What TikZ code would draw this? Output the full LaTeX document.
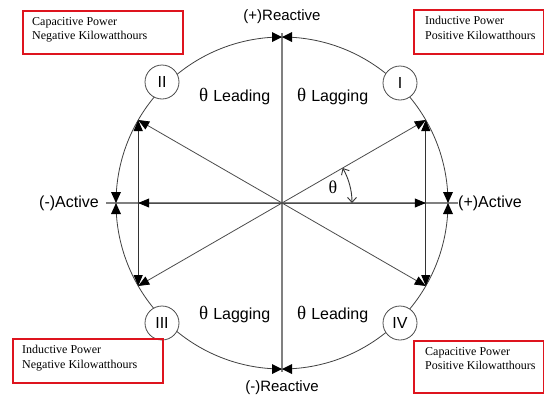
\documentclass[tikz,border=0pt]{standalone}
\usepackage{fontspec}
\setmainfont{Liberation Sans}
\newfontfamily\boxfont{Liberation Serif}
\usetikzlibrary{arrows.meta}
\definecolor{boxred}{RGB}{222,20,30}
\newcommand{\thq}{{\boxfont\fontsize{19}{19}\selectfont θ}\hspace{5pt}}
\begin{document}
\begin{tikzpicture}[x=1pt,y=-1pt,
  outer/.style={draw=black!75, line width=0.8pt},
  axis/.style={draw=black!50, line width=1.3pt},
  ray/.style={draw=black!70, line width=0.8pt},
  vline/.style={draw=black!80, line width=1pt},
  head/.style={-{Triangle[length=11pt,width=9pt,fill=black,color=black]}},
  bothhead/.style={{Triangle[length=11pt,width=9pt,fill=black,color=black]}-{Triangle[length=11pt,width=9pt,fill=black,color=black]}},
  thetaarc/.style={draw=black!80, line width=0.9pt, {Straight Barb[length=5pt,width=9pt]}-{Straight Barb[length=5pt,width=9pt]}},
  lbl/.style={font=\fontsize{16}{18}\selectfont, inner sep=0pt},
  axlbl/.style={font=\fontsize{15}{18}\selectfont, inner sep=0pt},
  roman/.style={circle, draw=black!70, line width=0.8pt, fill=white, minimum size=34pt, inner sep=0pt, font=\fontsize{16}{18}\selectfont},
  redbox/.style={draw=boxred, line width=2.4pt, inner sep=0pt},
  boxtext/.style={font=\boxfont\fontsize{12}{14.5}\selectfont, align=left, inner sep=0pt, anchor=north west, xshift=10pt, yshift=-7pt},
  tri/.style={fill=black}
]
\useasboundingbox (0,0) rectangle (544,402);
\fill[white] (0,0) rectangle (544,402);

% centre and circle
\coordinate (O) at (282,203);
\draw[outer] (O) circle[radius=166];

% axis points
\coordinate (T) at (282,37);
\coordinate (B) at (282,369);
\coordinate (L) at (116,203);
\coordinate (R) at (448,203);
\coordinate (Tx) at (282,33);
\coordinate (Bx) at (282,372);
\coordinate (Lx) at (106,203);
\coordinate (Rx) at (458,203);

% axes
\draw[axis] (Tx) -- (Bx);
\draw[axis] (Lx) -- (Rx);

% corners at 30 degrees
\coordinate (C1) at (425.8,120);
\coordinate (C2) at (138.2,120);
\coordinate (C3) at (138.2,286);
\coordinate (C4) at (425.8,286);
\coordinate (HR) at (425.8,203);
\coordinate (HL) at (138.2,203);

% rays
\draw[ray, head] (O) -- (C1);
\draw[ray, head] (O) -- (C2);
\draw[ray, head] (O) -- (C3);
\draw[ray, head] (O) -- (C4);
\draw[ray, head] (O) -- (HR);
\draw[ray, head] (O) -- (HL);
\draw[vline, bothhead] (C4) -- (C1);
\draw[vline, bothhead] (C3) -- (C2);

% bowties
\fill[tri] (T) -- ++(-10,-5) -- ++(0,10) -- cycle;
\fill[tri] (T) -- ++(10,-5) -- ++(0,10) -- cycle;
\fill[tri] (B) -- ++(-10,-5) -- ++(0,10) -- cycle;
\fill[tri] (B) -- ++(10,-5) -- ++(0,10) -- cycle;
\fill[tri] (L) -- ++(-5,-11) -- ++(10,0) -- cycle;
\fill[tri] (L) -- ++(-5,11) -- ++(10,0) -- cycle;
\fill[tri] (R) -- ++(-5,-11) -- ++(10,0) -- cycle;
\fill[tri] (R) -- ++(-5,11) -- ++(10,0) -- cycle;

% theta arc
\coordinate (A0) at (352,203);
\draw[thetaarc] (A0) arc[start angle=0, end angle=-30, radius=70];
\node[font=\boxfont\fontsize{18}{18}\selectfont, inner sep=0pt] (th) at (333,187) {θ};

% roman numerals
\node[roman] (rI) at (400,83) {I};
\node[roman] (rII) at (162,82) {II};
\node[roman] (rIII) at (162,323) {III};
\node[roman] (rIV) at (400,323) {IV};

% quadrant labels
\node[lbl, anchor=west] (q2) at (199,97) {\thq Leading};
\node[lbl, anchor=west] (q1) at (297,97) {\thq Lagging};
\node[lbl, anchor=west] (q3) at (199,315) {\thq Lagging};
\node[lbl, anchor=west] (q4) at (297,315) {\thq Leading};

% axis labels
\node[axlbl] (pr) at (282,17) {(+)Reactive};
\node[axlbl] (nr) at (282,388) {(-)Reactive};
\node[lbl, anchor=east] (na) at (99,203) {(-)Active};
\node[lbl, anchor=west] (pa) at (458,203) {(+)Active};

% red boxes
\node[redbox, anchor=north west, minimum width=160pt, minimum height=43pt] (b1) at (22,10) {};
\node[boxtext] (t1) at (b1.north west) {Capacitive Power\\Negative Kilowatthours};
\node[redbox, anchor=north west, minimum width=130pt, minimum height=44pt] (b2) at (413,9) {};
\node[boxtext, xshift=2pt] (t2) at (b2.north west) {Inductive Power\\Positive Kilowatthours};
\node[redbox, anchor=north west, minimum width=150pt, minimum height=44pt] (b3) at (12,338) {};
\node[boxtext] (t3) at (b3.north west) {Inductive Power\\Negative Kilowatthours};
\node[redbox, anchor=north west, minimum width=130pt, minimum height=52pt] (b4) at (413,340) {};
\node[boxtext, xshift=2pt] (t4) at (b4.north west) {Capacitive Power\\Positive Kilowatthours};
\end{tikzpicture}
\end{document}
